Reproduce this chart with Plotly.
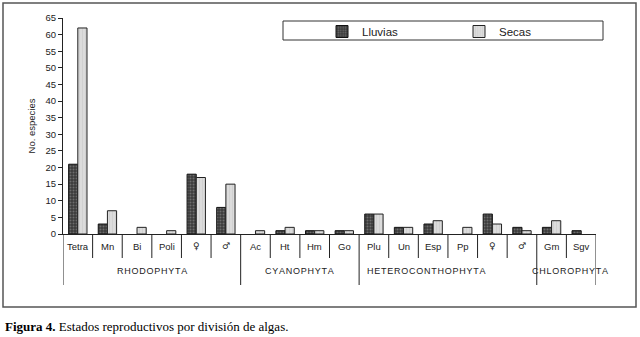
import plotly.graph_objects as go

categories = ["Tetra", "Mn", "Bi", "Poli", "♀", "♂",
              "Ac", "Ht", "Hm", "Go",
              "Plu", "Un", "Esp", "Pp", "♀", "♂",
              "Gm", "Sgv"]
lluvias = [21, 3, 0, 0, 18, 8, 0, 1, 1, 1, 6, 2, 3, 0, 6, 2, 2, 1]
secas = [62, 7, 2, 1, 17, 15, 1, 2, 1, 1, 6, 2, 4, 2, 3, 1, 4, 0]
groups = ["RHODOPHYTA", "CYANOPHYTA", "HETEROCONTHOPHYTA", "CHLOROPHYTA"]
group_sizes = [6, 4, 6, 2]
y_ticks = list(range(0, 70, 5))

xs = list(range(len(categories)))
W, H = 640, 337
L, R, T, B = 63, 44, 18, 103
pw = W - L - R
ph = H - T - B

def px_to_px(px):
    return (px - L) / pw

def py_to_py(py):
    return (H - B - py) / ph

fig = go.Figure()
fig.add_bar(x=xs, y=lluvias, name="Lluvias",
            marker=dict(color="#3a3a3a",
                        line=dict(color="#111", width=[1 if v else 0 for v in lluvias]),
                        pattern=dict(shape=".", fgcolor="#a0a0a0", bgcolor="#3a3a3a",
                                     size=3, solidity=0.35)))
fig.add_bar(x=xs, y=secas, name="Secas",
            marker=dict(color="#d6d6d6",
                        line=dict(color="#222", width=[1 if v else 0 for v in secas]),
                        pattern=dict(shape="|", fgcolor="#c4c4c4", bgcolor="#dcdcdc",
                                     size=3, solidity=0.3)))

shapes = []
annotations = []
bounds = []
acc = 0
for s in group_sizes:
    bounds.append(acc - 0.5)
    acc += s
bounds.append(acc - 0.5)
for i in range(len(categories) - 1):
    xb = i + 0.5
    if xb in bounds:
        continue
    shapes.append(dict(type="line", xref="x", yref="paper", x0=xb, x1=xb,
                       y0=0, y1=py_to_py(258), line=dict(color="#222", width=1)))
for xb in bounds:
    shapes.append(dict(type="line", xref="x", yref="paper", x0=xb, x1=xb,
                       y0=0, y1=py_to_py(285), line=dict(color="#222", width=1)))
# outer frame
shapes.append(dict(type="rect", xref="paper", yref="paper",
                   x0=px_to_px(3), x1=px_to_px(636), y0=py_to_py(307), y1=py_to_py(3),
                   line=dict(color="#555", width=1.5)))
# legend frame
shapes.append(dict(type="rect", xref="paper", yref="paper",
                   x0=px_to_px(283), x1=px_to_px(603), y0=py_to_py(40), y1=py_to_py(21),
                   line=dict(color="#333", width=1), fillcolor="white", layer="below"))

for i, c in enumerate(categories):
    sym = c in ("♀", "♂")
    annotations.append(dict(x=i, y=py_to_py(246), xref="x", yref="paper", text=c,
                            showarrow=False,
                            font=dict(family="DejaVu Sans" if sym else "Liberation Sans, Arial",
                                      size=9 if sym else 9.5, color="#222"),
                            yanchor="middle", xanchor="center"))
group_x = [2.5, 7.5, 11.76, 16.63]
for g, gx in zip(groups, group_x):
    annotations.append(dict(x=gx, y=py_to_py(271), xref="x", yref="paper",
                            text="&#8202;".join(g), showarrow=False,
                            font=dict(family="Liberation Sans, Arial", size=9, color="#222"),
                            yanchor="middle", xanchor="center"))
annotations.append(dict(x=px_to_px(3), y=py_to_py(326), xref="paper", yref="paper",
                        text="<b>Figura 4.</b> Estados reproductivos por división de algas.",
                        showarrow=False, xanchor="left", yanchor="middle",
                        font=dict(family="Liberation Serif, Times New Roman", size=13, color="#000")))

fig.update_layout(
    width=W, height=H,
    margin=dict(l=L, r=R, t=T, b=B),
    paper_bgcolor="white", plot_bgcolor="white",
    barmode="group", bargap=0.38, bargroupgap=0,
    shapes=shapes, annotations=annotations,
    showlegend=True,
    legend=dict(orientation="h", x=px_to_px(322), y=py_to_py(17), xanchor="left", yanchor="top",
                borderwidth=0, bgcolor="rgba(0,0,0,0)",
                font=dict(family="Liberation Sans, Arial", size=11.5, color="#222"),
                entrywidth=92, itemwidth=30, tracegroupgap=0),
    font=dict(family="Liberation Sans, Arial", size=9, color="#222"),
)
fig.update_xaxes(range=[-0.5, len(categories) - 0.5], showticklabels=False, showgrid=False,
                 zeroline=False, showline=True, linecolor="#222", linewidth=1, ticks="")
fig.update_yaxes(range=[0, 65], tickvals=y_ticks, showgrid=False, zeroline=False,
                 showline=True, linecolor="#222", linewidth=1, ticks="outside", ticklen=4,
                 tickcolor="#222", tickfont=dict(size=9.5),
                 title=dict(text="No. especies", font=dict(size=9.5), standoff=8))

fig.write_html("out.html", config={"displayModeBar": False},
               post_script="document.body.style.margin='0';document.body.style.overflow='hidden';")
